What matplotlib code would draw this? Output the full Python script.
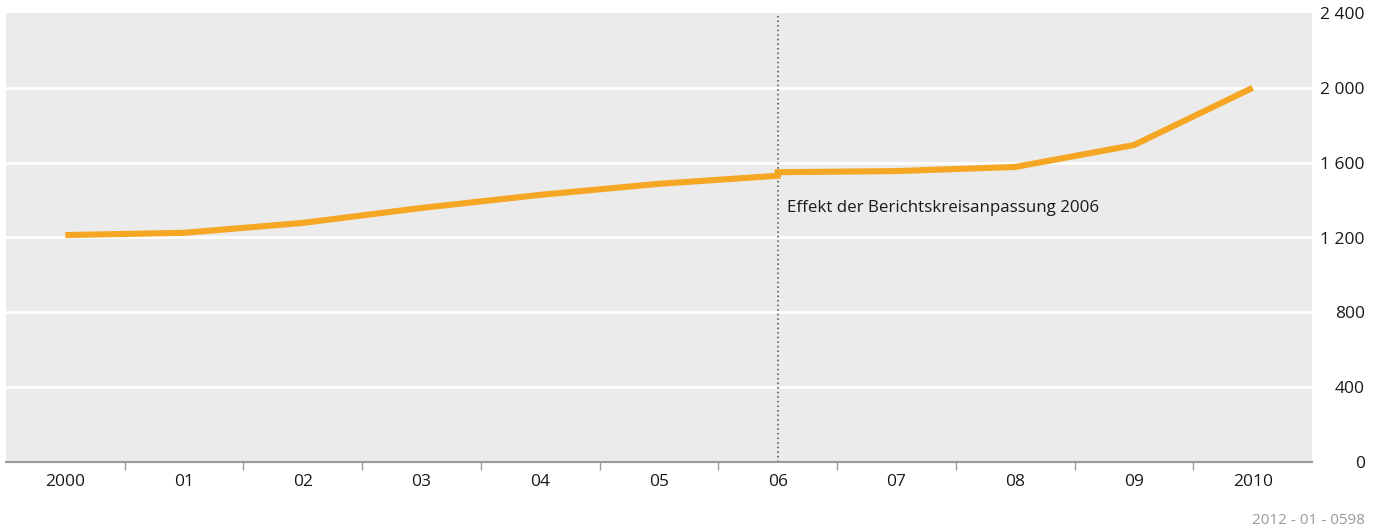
import numpy as np
import matplotlib.pyplot as plt
from matplotlib.ticker import FixedLocator, FuncFormatter

plt.rcParams["font.family"] = ["Open Sans", "DejaVu Sans"]

# Daten
year_labels = ["2000", "01", "02", "03", "04", "05", "06", "07", "08", "09", "2010"]
# 2006 erscheint zweimal: vor und nach der Berichtskreisanpassung
point_idx = [0, 1, 2, 3, 4, 5, 6, 6, 7, 8, 9, 10]
values = [1213, 1225, 1278, 1358, 1428, 1487, 1530, 1549, 1555, 1577, 1694, 2000]
y_ticks = [0, 400, 800, 1200, 1600, 2000, 2400]
note = "Effekt der Berichtskreisanpassung 2006"
source = "2012 - 01 - 0598"

fig = plt.figure(figsize=(13.83, 5.32), dpi=100)
ax = fig.add_axes([6 / 1383, 70 / 532, 1306 / 1383, 449 / 532])
ax.set_facecolor("#ebebeb")

ax.set_xlim(-0.5, len(year_labels) - 0.5)
ax.set_ylim(0, 2400)

for yv in y_ticks[1:-1]:
    ax.axhline(yv, color="white", linewidth=2, zorder=1)

ax.axvline(6, color="#444444", linestyle=(0, (1, 2)), linewidth=1.1, zorder=2)
ax.plot(point_idx, values, color="#f5a623", linewidth=4.4, solid_capstyle="butt",
        solid_joinstyle="miter", zorder=3)
ax.text(6.08, 1358, note, fontsize=12.2, color="#1a1a1a", va="center", ha="left")

# Achsen
for s in ["top", "left", "right"]:
    ax.spines[s].set_visible(False)
ax.spines["bottom"].set_color("#9a9a9a")
ax.spines["bottom"].set_linewidth(1.5)

ax.set_xticks(np.arange(len(year_labels)))
ax.set_xticklabels(year_labels, fontsize=12.5, color="#1a1a1a")
ax.tick_params(axis="x", which="major", length=0, pad=8.5)
ax.xaxis.set_minor_locator(FixedLocator(np.arange(0.5, len(year_labels) - 1, 1)))
ax.tick_params(axis="x", which="minor", length=6, width=1, color="#9a9a9a")

ax.yaxis.tick_right()
ax.set_yticks(y_ticks)
ax.yaxis.set_major_formatter(FuncFormatter(lambda v, p: f"{int(v):,}".replace(",", " ")))
ax.tick_params(axis="y", length=0, pad=38, labelsize=12.5, labelcolor="#1a1a1a")
for lab in ax.get_yticklabels():
    lab.set_horizontalalignment("right")

fig.text(1365 / 1383, 12 / 532, source, fontsize=11, color="#9a9a9a", ha="right", va="center")

fig.savefig("out.png", dpi=100)
